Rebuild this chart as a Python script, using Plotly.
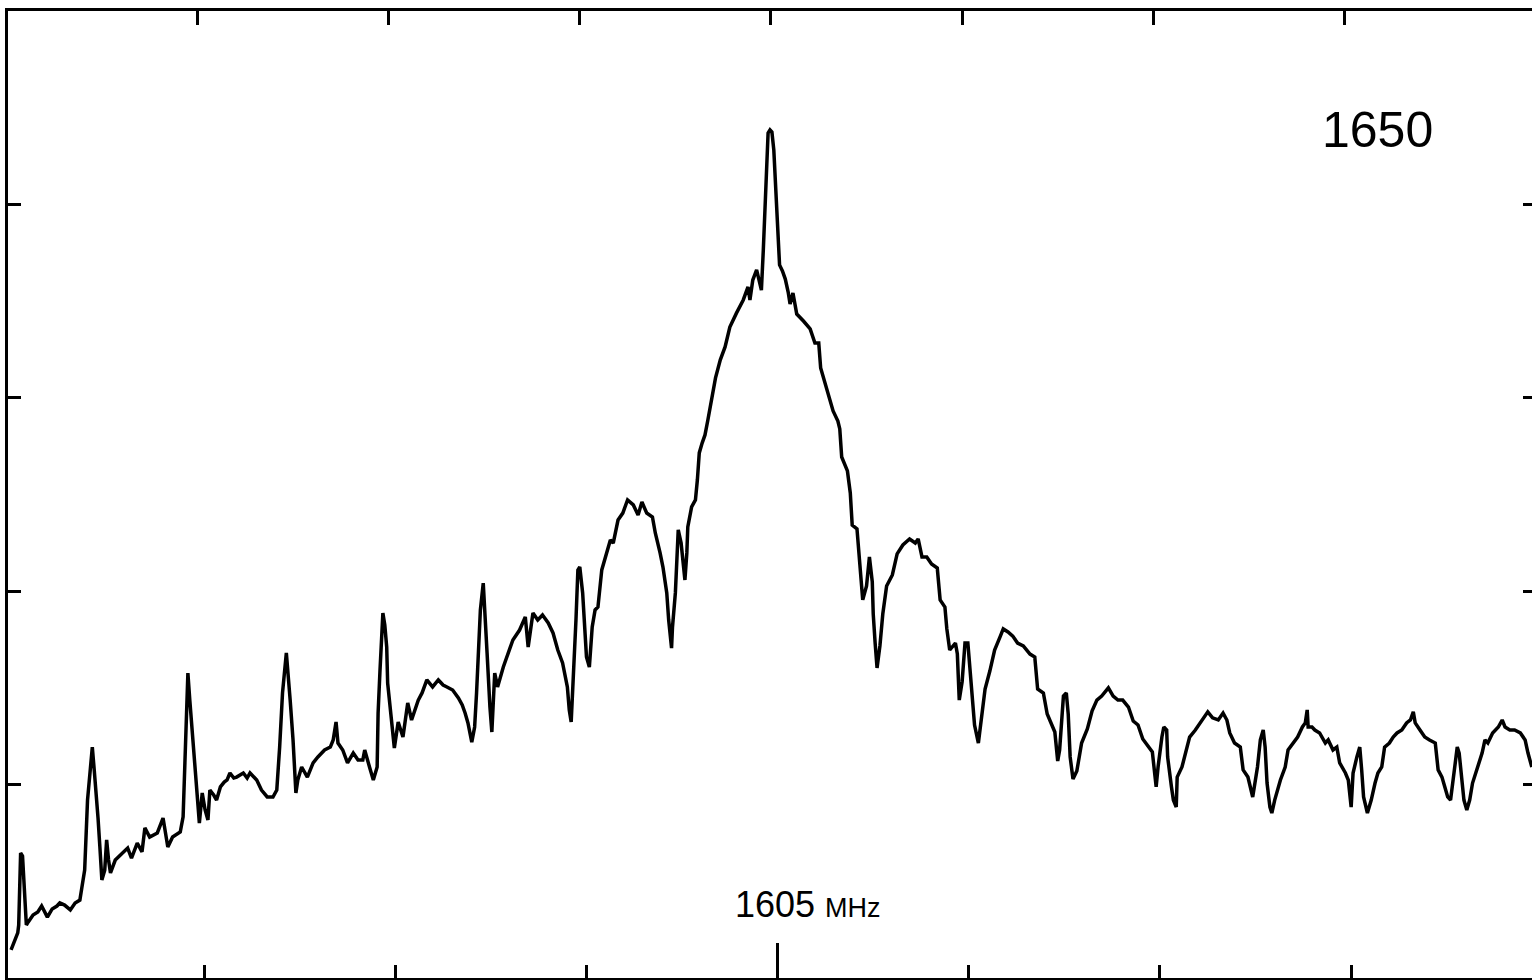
import plotly.graph_objects as go

# Frequency offset from 1605 MHz (kHz) and detector level (arbitrary units, 0-50)
freq_khz = [
    -802, -798, -795, -794, -792, -790, -788, -786, -784, -779,
    -774, -770, -764, -759, -754, -751, -746, -740, -735, -730,
    -728, -725, -722, -718, -717, -715, -713, -711, -709, -707,
    -704, -702, -700, -698, -693, -688, -684, -680, -676, -670,
    -665, -662, -657, -649, -643, -638, -633, -625, -622, -620,
    -617, -615, -613, -610, -608, -605, -602, -599, -596, -594,
    -590, -587, -583, -579, -576, -573, -569, -566, -559, -555,
    -552, -545, -540, -534, -528, -524, -521, -518, -514, -512,
    -510, -507, -504, -502, -498, -492, -486, -481, -474, -468,
    -465, -462, -460, -455, -450, -444, -439, -434, -432, -427,
    -423, -419, -418, -416, -413, -411, -409, -408, -404, -401,
    -397, -392, -387, -383, -376, -372, -367, -361, -355, -350,
    -346, -340, -334, -330, -327, -324, -320, -317, -315, -311,
    -308, -306, -304, -301, -299, -296, -293, -287, -282, -277,
    -270, -264, -261, -256, -251, -246, -240, -235, -230, -225,
    -220, -218, -216, -214, -211, -209, -207, -204, -202, -200,
    -197, -194, -191, -188, -184, -179, -175, -172, -167, -162,
    -157, -151, -146, -142, -137, -131, -128, -123, -120, -116,
    -114, -111, -110, -107, -105, -104, -101, -99, -97, -95,
    -94, -90, -86, -84, -82, -79, -76, -73, -69, -65,
    -60, -55, -50, -46, -43, -36, -31, -29, -26, -22,
    -17, -15, -13, -11, -10, -8, -6, -4, -2, 0,
    2, 5, 8, 11, 13, 16, 20, 27, 34, 39,
    43, 45, 47, 53, 58, 63, 65, 67, 73, 76,
    78, 83, 86, 89, 93, 96, 99, 100, 102, 104,
    107, 110, 114, 120, 125, 131, 138, 144, 147, 151,
    156, 161, 167, 170, 175, 177, 180, 186, 188, 190,
    193, 196, 199, 203, 206, 210, 214, 217, 222, 227,
    233, 236, 241, 246, 251, 257, 264, 269, 272, 278,
    282, 287, 290, 293, 295, 299, 302, 304, 306, 309,
    313, 318, 324, 329, 334, 339, 346, 351, 356, 361,
    367, 372, 377, 382, 387, 392, 396, 398, 402, 404,
    407, 408, 412, 414, 417, 418, 423, 428, 431, 437,
    442, 447, 450, 455, 461, 466, 470, 473, 478, 484,
    487, 492, 497, 502, 505, 508, 510, 512, 515, 517,
    520, 526, 531, 534, 539, 544, 549, 552, 554, 555,
    559, 562, 567, 573, 576, 581, 585, 588, 594, 597,
    600, 602, 606, 609, 611, 613, 617, 621, 625, 628,
    632, 635, 640, 644, 648, 653, 658, 662, 665, 667,
    672, 677, 682, 688, 691, 695, 698, 701, 704, 708,
    711, 713, 716, 718, 721, 724, 727, 732, 737, 740,
    743, 748, 754, 758, 761, 766, 771, 777, 782, 785,
    789,
]

level = [
    1.45, 1.96, 2.33, 2.74, 6.46, 6.31, 4.29, 2.74, 2.90, 3.26,
    3.41, 3.72, 3.15, 3.57, 3.72, 3.88, 3.77, 3.52, 3.88, 4.03,
    4.65, 5.58, 9.20, 11.27, 11.94, 10.76, 9.72, 8.27, 6.72, 5.07,
    5.58, 7.14, 6.10, 5.43, 6.10, 6.36, 6.52, 6.72, 6.20, 6.98,
    6.52, 7.76, 7.29, 7.50, 8.27, 6.77, 7.29, 7.55, 8.33, 11.94,
    15.77, 14.37, 12.98, 11.43, 9.57, 8.01, 9.57, 8.69, 8.17, 9.72,
    9.46, 9.20, 9.88, 10.13, 10.24, 10.60, 10.34, 10.39, 10.60, 10.34,
    10.60, 10.24, 9.72, 9.36, 9.36, 9.72, 11.94, 14.74, 16.81, 15.25,
    14.37, 12.31, 9.57, 10.24, 10.91, 10.39, 11.12, 11.43, 11.79, 11.94,
    12.31, 13.24, 12.15, 11.79, 11.12, 11.63, 11.27, 11.27, 11.79, 10.91,
    10.24, 10.91, 13.70, 15.93, 18.87, 18.25, 17.11, 15.25, 13.34, 11.89,
    13.24, 12.46, 14.22, 13.34, 14.37, 14.74, 15.41, 15.05, 15.41, 15.15,
    15.05, 14.89, 14.48, 14.12, 13.70, 13.19, 12.20, 12.98, 14.74, 19.03,
    20.42, 18.87, 16.81, 14.01, 12.72, 15.77, 15.05, 16.08, 16.81, 17.48,
    17.99, 18.67, 17.11, 18.87, 18.51, 18.77, 18.36, 17.84, 16.96, 16.29,
    15.05, 13.86, 13.24, 15.05, 18.51, 21.10, 21.25, 19.91, 18.51, 16.60,
    16.08, 18.15, 19.03, 19.18, 21.10, 21.98, 22.65, 22.49, 23.68, 24.04,
    24.72, 24.46, 23.94, 24.61, 24.04, 23.84, 23.01, 21.98, 21.25, 19.91,
    18.51, 17.06, 18.15, 19.91, 22.29, 23.17, 22.49, 21.46, 20.58, 21.98,
    23.32, 24.36, 24.72, 25.75, 27.15, 27.66, 28.08, 28.85, 29.99, 31.03,
    31.96, 32.63, 33.66, 34.13, 34.39, 35.06, 35.73, 35.06, 36.09, 36.61,
    35.57, 37.64, 39.71, 42.30, 43.69, 43.85, 43.74, 42.81, 40.59, 38.52,
    36.87, 36.56, 36.14, 35.47, 34.85, 35.42, 34.33, 33.97, 33.56, 32.83,
    32.83, 31.54, 31.18, 30.25, 29.32, 28.80, 28.39, 26.94, 26.22, 25.08,
    23.42, 23.22, 21.41, 19.55, 20.27, 21.77, 20.48, 18.82, 17.32, 16.03,
    17.17, 18.82, 20.27, 20.84, 21.93, 22.39, 22.70, 22.49, 22.70, 21.77,
    21.77, 21.41, 21.20, 19.55, 19.18, 18.05, 16.96, 17.32, 16.75, 14.37,
    15.31, 17.32, 17.32, 15.10, 13.08, 12.15, 13.65, 14.94, 15.87, 16.96,
    17.68, 18.05, 17.89, 17.68, 17.32, 17.17, 16.75, 16.60, 14.94, 14.74,
    13.65, 13.08, 12.72, 11.22, 11.79, 14.58, 14.74, 13.65, 11.43, 10.29,
    10.70, 12.15, 12.88, 13.81, 14.37, 14.58, 15.00, 14.58, 14.37, 14.37,
    14.01, 13.29, 13.08, 12.36, 12.00, 11.69, 9.88, 10.91, 12.46, 12.98,
    12.82, 11.43, 9.88, 9.20, 8.84, 10.39, 10.91, 11.79, 12.46, 12.82,
    13.19, 13.50, 13.76, 13.45, 13.34, 13.70, 13.34, 12.67, 12.15, 11.94,
    10.76, 10.39, 9.36, 10.91, 12.31, 12.82, 11.94, 10.08, 8.84, 8.53,
    9.20, 10.24, 10.91, 11.79, 12.15, 12.46, 12.98, 13.19, 13.86, 12.98,
    12.98, 12.82, 12.67, 12.15, 12.31, 11.79, 11.94, 11.12, 10.60, 10.24,
    8.84, 10.60, 11.43, 11.94, 10.76, 9.36, 8.53, 9.20, 10.08, 10.60,
    10.91, 11.94, 12.15, 12.46, 12.67, 12.82, 13.19, 13.34, 13.76, 13.19,
    12.82, 12.46, 12.31, 12.15, 10.76, 10.39, 9.88, 9.36, 9.20, 10.91,
    11.94, 11.63, 10.24, 9.20, 8.69, 9.20, 10.08, 10.91, 11.63, 12.31,
    12.15, 12.67, 12.98, 13.34, 12.98, 12.82, 12.82, 12.67, 12.31, 11.63,
    10.91,
]

x_ticks_khz = [-600, -400, -200, 0, 200, 400, 600]
top_ticks_khz = [-607, -407, -207, -7, 193, 393, 593]
center_tick_khz = [0]
y_ticks = [10, 20, 30, 40]

X_RANGE = [-805.2, 789.2]
Y_RANGE = [0, 50]

fig = go.Figure()
fig.add_trace(go.Scatter(
    x=freq_khz, y=level, mode="lines",
    line=dict(color="black", width=3.5),
    hoverinfo="skip", showlegend=False,
))
# carrier for the top / right tick axes
fig.add_trace(go.Scatter(x=[None], y=[None], xaxis="x2", yaxis="y2",
                         mode="lines", showlegend=False, hoverinfo="skip"))

axis_common = dict(showgrid=False, zeroline=False, showticklabels=False,
                   tickcolor="black", tickwidth=3, ticks="inside")

fig.update_layout(
    width=1532, height=980,
    margin=dict(l=8, r=0, t=11, b=2, pad=0),
    paper_bgcolor="white", plot_bgcolor="white",
    showlegend=False,
    xaxis=dict(range=X_RANGE, showline=True, linecolor="black", linewidth=3,
               tickmode="array", tickvals=center_tick_khz, ticklen=35,
               minor=dict(tickmode="array", tickvals=x_ticks_khz, ticks="inside",
                          ticklen=13, tickwidth=3, tickcolor="black"),
               **axis_common),
    xaxis2=dict(range=X_RANGE, overlaying="x", side="top", showline=True,
                linecolor="black", linewidth=3, tickmode="array",
                tickvals=top_ticks_khz, ticklen=14, **axis_common),
    yaxis=dict(range=Y_RANGE, showline=True, linecolor="black", linewidth=3,
               tickmode="array", tickvals=y_ticks, ticklen=13, **axis_common),
    yaxis2=dict(range=Y_RANGE, overlaying="y", side="right", showline=False,
                tickmode="array", tickvals=y_ticks, ticklen=9, **axis_common),
    annotations=[
        dict(x=628, y=43.85, xref="x", yref="y", text="1650", showarrow=False,
             xanchor="center", yanchor="middle",
             font=dict(family="Liberation Sans", size=50, color="black")),
        dict(x=-47, y=3.8, xref="x", yref="y",
             text="1605 <span style='font-size:27px'>MHz</span>",
             showarrow=False, xanchor="left", yanchor="middle",
             font=dict(family="Liberation Sans", size=36, color="black")),
    ],
)

fig.write_html(
    "out.html",
    config={"displayModeBar": False},
    post_script="document.body.style.margin='0';document.body.style.overflow='hidden';",
)
